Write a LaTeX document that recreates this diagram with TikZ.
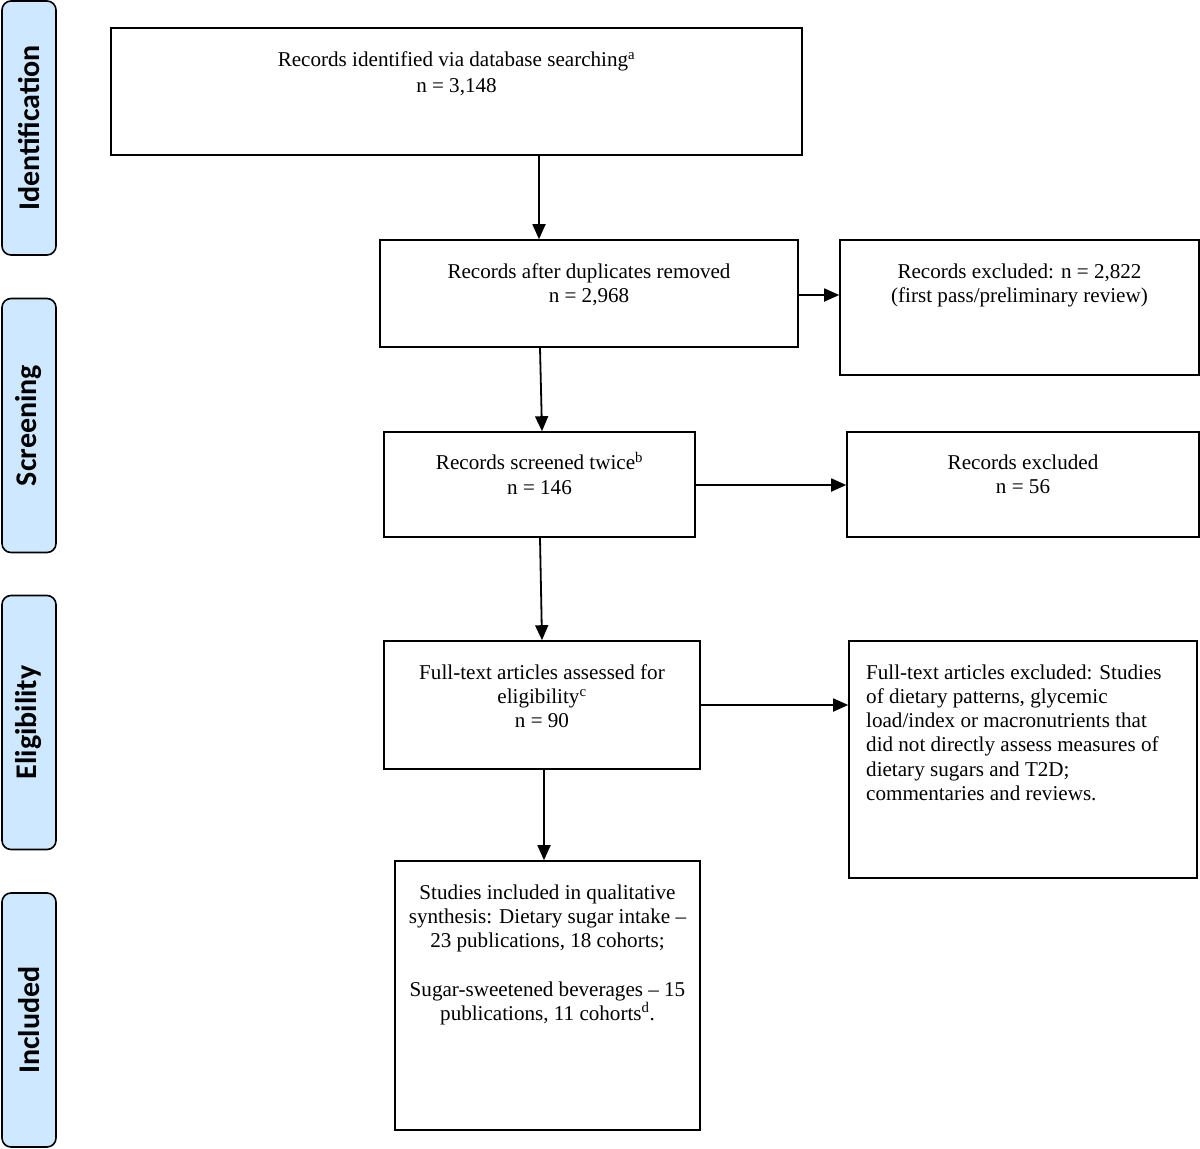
\documentclass[tikz,border=0pt]{standalone}
\usepackage{fontspec}
\setmainfont{Liberation Serif}
\newfontfamily\sidefont{Carlito}
\usetikzlibrary{arrows.meta}
\begin{document}
\begin{tikzpicture}[x=1pt,y=-1pt,
  boxx/.style={draw=black, line width=1.6pt, rectangle, inner sep=0pt, fill=white},
  txt/.style={inner sep=0pt, align=center, font=\fontsize{21.1}{24.2}\selectfont},
  txtl/.style={inner sep=0pt, align=left, font=\fontsize{21.1}{24.2}\selectfont},
  side/.style={draw=black, line width=1.6pt, rounded corners=9pt, fill=sideblue,
     minimum width=254pt, minimum height=54pt, inner sep=0pt, rotate=90,
     font=\sidefont\bfseries\fontsize{30}{32}\selectfont},
  arr/.style={line width=1.8pt, -{Triangle[length=15pt,width=13pt]}}
]
\definecolor{sideblue}{RGB}{206,232,255}
\useasboundingbox (0,0) rectangle (1200,1149);

% side labels
\node[side] (s1) at (29,128) {Identification};
\node[side] (s2) at (29,425.5) {Screening};
\node[side] (s3) at (29,722.5) {Eligibility};
\node[side] (s4) at (29,1020) {Included};

% boxes
\node[boxx, minimum width=691pt, minimum height=127pt] (A) at (456.5,91.5) {};
\node[boxx, minimum width=418pt, minimum height=107pt] (B) at (589,293.5) {};
\node[boxx, minimum width=359pt, minimum height=135pt] (C) at (1019.5,307.5) {};
\node[boxx, minimum width=311pt, minimum height=105pt] (D) at (539.5,484.5) {};
\node[boxx, minimum width=352pt, minimum height=105pt] (E) at (1023,484.5) {};
\node[boxx, minimum width=316pt, minimum height=128pt] (F) at (542,705) {};
\node[boxx, minimum width=348pt, minimum height=237pt] (G) at (1023,759.5) {};
\node[boxx, minimum width=305pt, minimum height=269pt] (H) at (547.5,995.5) {};

% texts
\node[txt, anchor=north] (tA) at (456.5,51.5) {Records identified via database searching\textsuperscript{a}\\[2pt] n = 3,148};
\node[txt, anchor=north] (tB) at (589,263.5) {Records after duplicates removed\\ n = 2,968};
\node[txt, anchor=north] (tC) at (1019.5,263.5) {Records excluded: n = 2,822\\ (first pass/preliminary review)};
\node[txt, anchor=north] (tD) at (539.5,452) {Records screened twice\textsuperscript{b}\\ n = 146};
\node[txt, anchor=north] (tE) at (1023,454.5) {Records excluded\\ n = 56};
\node[txt, anchor=north] (tF) at (542,664.5) {Full-text articles assessed for\\ eligibility\textsuperscript{c}\\ n = 90};
\node[txtl, anchor=north west] (tG) at (866,664.5) {Full-text articles excluded: Studies\\ of dietary patterns, glycemic\\ load/index or macronutrients that\\ did not directly assess measures of\\ dietary sugars and T2D;\\ commentaries and reviews.};
\node[txt, anchor=north] (tH) at (547.5,884.5) {Studies included in qualitative\\ synthesis: Dietary sugar intake --\\ 23 publications, 18 cohorts;\\[24.2pt] Sugar-sweetened beverages -- 15\\ publications, 11 cohorts\textsuperscript{d}.};

% connectors
\draw[arr] (A.south -| 539,0) -- (B.north -| 539,0);
\draw[arr] (B.south -| 540,0) -- (D.north -| 542,0);
\draw[arr] (D.south -| 540,0) -- (F.north -| 542,0);
\draw[arr] (F.south -| 544,0) -- (H.north -| 544,0);
\draw[arr] (B.east |- 0,295) -- (C.west |- 0,295);
\draw[arr] (D.east |- 0,485) -- (E.west |- 0,485);
\draw[arr] (F.east |- 0,705) -- (G.west |- 0,705);
\end{tikzpicture}
\end{document}
